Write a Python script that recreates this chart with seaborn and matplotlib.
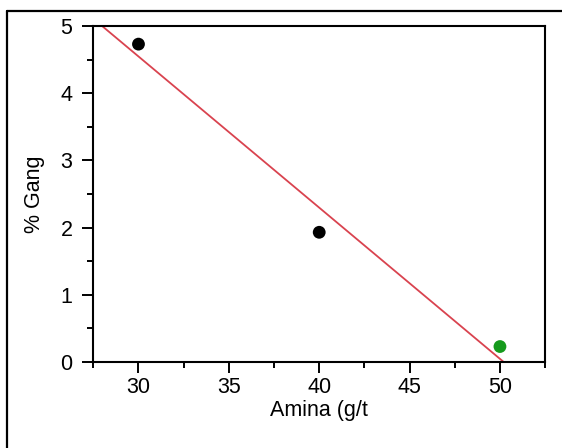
import matplotlib
matplotlib.use("Agg")
import matplotlib.pyplot as plt
from matplotlib.lines import Line2D
from matplotlib.ticker import MultipleLocator
import numpy as np
import pandas as pd
import seaborn as sns

# Collector dosage vs. gangue content
amina = [30, 40, 50]
gang = [4.73, 1.93, 0.23]
point_group = ["a", "a", "b"]
group_colors = {"a": "black", "b": "#159a1c"}
fit_color = "#d9434f"

x_ticks = [30, 35, 40, 45, 50]
y_ticks = [0, 1, 2, 3, 4, 5]

df = pd.DataFrame({"Amina": amina, "Gang": gang, "grupo": point_group})

sns.set_theme(style="ticks")
plt.rcParams["font.family"] = ["Liberation Sans", "DejaVu Sans"]

FS = 15.5

fig = plt.figure(figsize=(5.62, 4.48), dpi=100)
ax = fig.add_axes([0.166, 0.192, 0.804, 0.750])
ax.set_xlim(27.5, 52.5)
ax.set_ylim(0, 5)

# least-squares line across the full x range
sns.regplot(data=df, x="Amina", y="Gang", ax=ax, scatter=False, ci=None,
            truncate=False, color=fit_color, line_kws={"lw": 1.3})
ax.set_xlim(27.5, 52.5)
ax.set_ylim(0, 5)

sns.scatterplot(data=df, x="Amina", y="Gang", hue="grupo", palette=group_colors,
                s=85, edgecolor="none", legend=False, ax=ax, zorder=3, clip_on=False)

ax.set_xticks(x_ticks)
ax.set_yticks(y_ticks)
ax.xaxis.set_minor_locator(MultipleLocator(2.5))
ax.yaxis.set_minor_locator(MultipleLocator(0.5))
ax.tick_params(which="major", direction="out", length=8, width=1.4,
               labelsize=FS, color="black", labelcolor="black")
ax.tick_params(which="minor", direction="out", length=4, width=1.4, color="black")
ax.tick_params(axis="y", which="both", left=True, right=False, pad=7)
ax.tick_params(axis="x", which="both", bottom=True, top=False, pad=3)

for side in ["left", "bottom", "top", "right"]:
    ax.spines[side].set_visible(True)
    ax.spines[side].set_color("black")
    ax.spines[side].set_linewidth(1.5)

ax.set_xlabel("Amina (g/t", fontsize=FS, labelpad=1, color="black")
ax.set_ylabel("% Gang", fontsize=FS, labelpad=11, color="black")

# outer frame lines along the left and top of the figure
fig.add_artist(Line2D([7 / 562, 7 / 562], [0, 1 - 11 / 448],
                      transform=fig.transFigure, color="black", lw=1.6))
fig.add_artist(Line2D([7 / 562, 1], [1 - 11 / 448, 1 - 11 / 448],
                      transform=fig.transFigure, color="black", lw=1.6))

fig.savefig("out.png", dpi=100)
